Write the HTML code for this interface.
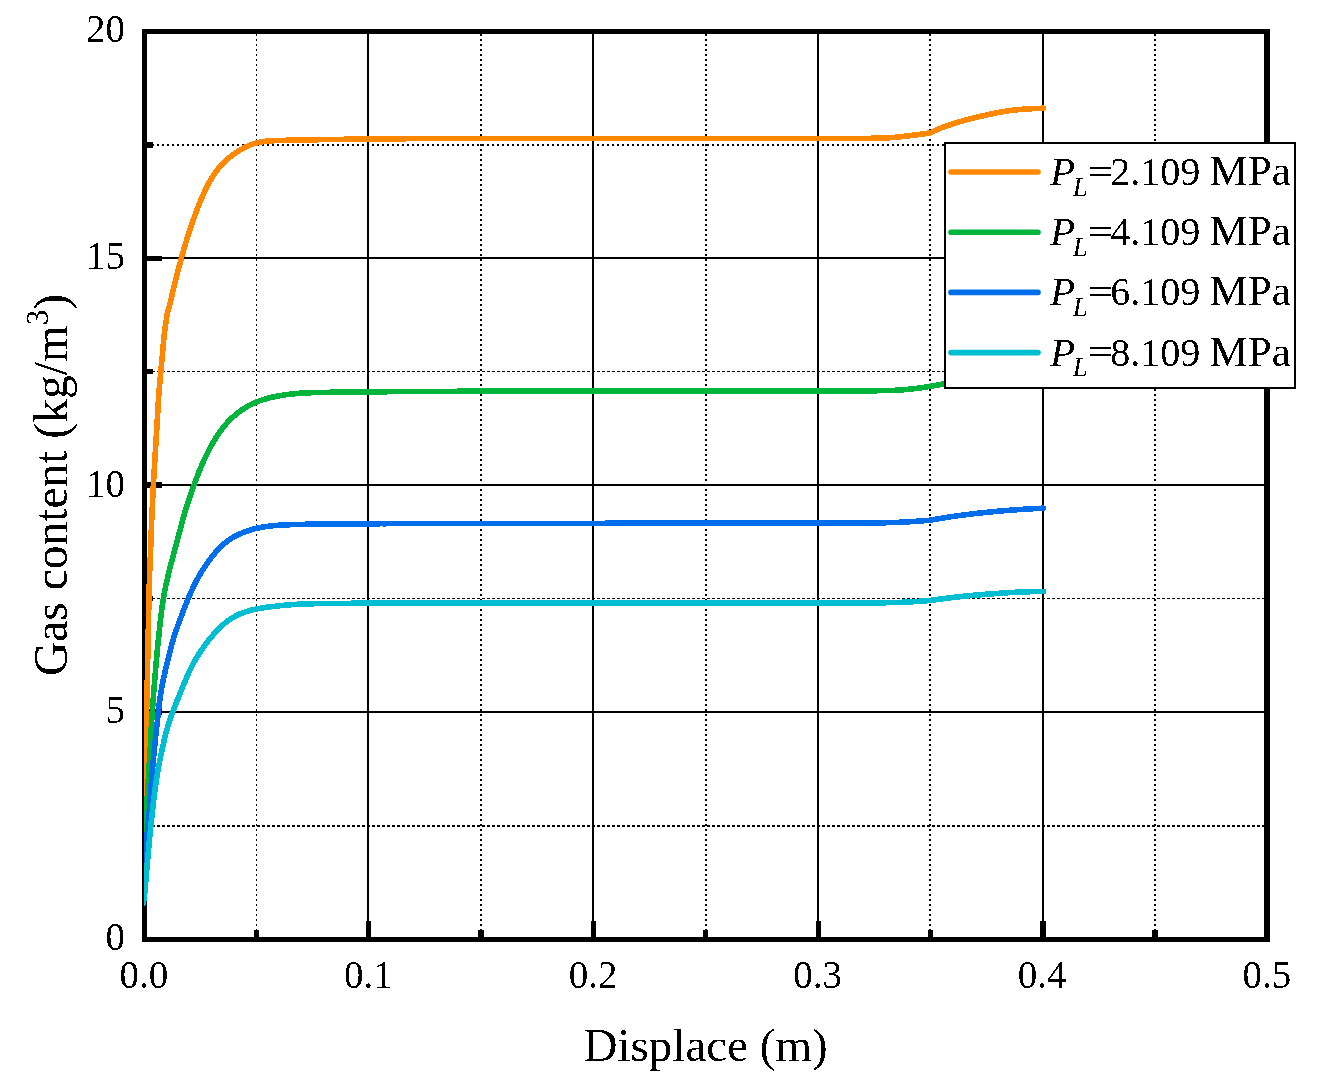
<!DOCTYPE html>
<html><head><meta charset="utf-8"><style>
html,body{margin:0;padding:0;background:#fff;}
body{width:1319px;height:1091px;overflow:hidden;font-family:"Liberation Serif",serif;}
svg{display:block;}
</style></head><body>
<svg width="1319" height="1091" viewBox="0 0 1319 1091">
<rect width="1319" height="1091" fill="#fff"/>
<line x1="256.5" y1="34" x2="256.5" y2="937" stroke="#000" stroke-width="1" stroke-dasharray="2 3" shape-rendering="crispEdges"/>
<line x1="481.0" y1="34" x2="481.0" y2="937" stroke="#000" stroke-width="2" stroke-dasharray="2 3" shape-rendering="crispEdges"/>
<line x1="706.0" y1="34" x2="706.0" y2="937" stroke="#000" stroke-width="2" stroke-dasharray="2 3" shape-rendering="crispEdges"/>
<line x1="930.0" y1="34" x2="930.0" y2="937" stroke="#000" stroke-width="2" stroke-dasharray="2 3" shape-rendering="crispEdges"/>
<line x1="1155.0" y1="34" x2="1155.0" y2="937" stroke="#000" stroke-width="2" stroke-dasharray="2 3" shape-rendering="crispEdges"/>
<line x1="147" y1="145.0" x2="1264" y2="145.0" stroke="#000" stroke-width="2" stroke-dasharray="2 3" shape-rendering="crispEdges"/>
<line x1="147" y1="371.5" x2="1264" y2="371.5" stroke="#000" stroke-width="1" stroke-dasharray="2.5 2.5" shape-rendering="crispEdges"/>
<line x1="147" y1="598.5" x2="1264" y2="598.5" stroke="#000" stroke-width="1" stroke-dasharray="2.5 2.5" shape-rendering="crispEdges"/>
<line x1="147" y1="826.0" x2="1264" y2="826.0" stroke="#000" stroke-width="2" stroke-dasharray="2.5 2.5" shape-rendering="crispEdges"/>
<rect x="367" y="34" width="2" height="903" fill="#000"/>
<rect x="592" y="34" width="2" height="903" fill="#000"/>
<rect x="817" y="34" width="2" height="903" fill="#000"/>
<rect x="1042" y="34" width="2" height="903" fill="#000"/>
<rect x="147" y="257" width="1117" height="2" fill="#000"/>
<rect x="147" y="484" width="1117" height="2" fill="#000"/>
<rect x="147" y="711" width="1117" height="2" fill="#000"/>
<rect x="142" y="29" width="1128" height="5" fill="#000"/>
<rect x="142" y="937" width="1128" height="5" fill="#000"/>
<rect x="142" y="29" width="5" height="913" fill="#000"/>
<rect x="1264" y="29" width="6" height="913" fill="#000"/>
<rect x="366" y="921" width="5" height="16" fill="#000"/>
<rect x="591" y="921" width="5" height="16" fill="#000"/>
<rect x="816" y="921" width="5" height="16" fill="#000"/>
<rect x="1040" y="921" width="6" height="16" fill="#000"/>
<rect x="254" y="930" width="5" height="7" fill="#000"/>
<rect x="478" y="930" width="6" height="7" fill="#000"/>
<rect x="703" y="930" width="5" height="7" fill="#000"/>
<rect x="928" y="930" width="5" height="7" fill="#000"/>
<rect x="1152" y="930" width="6" height="7" fill="#000"/>
<rect x="147" y="256" width="15" height="5" fill="#000"/>
<rect x="147" y="482" width="15" height="6" fill="#000"/>
<rect x="147" y="709" width="15" height="6" fill="#000"/>
<rect x="147" y="142" width="6" height="6" fill="#000"/>
<rect x="147" y="369" width="6" height="5" fill="#000"/>
<rect x="147" y="596" width="6" height="5" fill="#000"/>
<rect x="147" y="823" width="6" height="6" fill="#000"/>
<clipPath id="pc"><rect x="144" y="34" width="1120" height="903"/></clipPath>
<g clip-path="url(#pc)" fill="none" stroke-width="5.6" stroke-linejoin="round" stroke-linecap="round" shape-rendering="crispEdges">
<path d="M144.00,805.00 L144.10,803.50 L144.20,802.00 L144.30,800.51 L144.39,799.01 L144.49,797.51 L144.58,796.01 L144.67,794.52 L144.76,793.02 L144.84,791.52 L144.92,790.02 L144.99,788.52 L145.06,787.02 L145.13,785.52 L145.18,784.02 L145.24,782.53 L145.28,781.03 L145.33,779.53 L145.37,778.03 L145.40,776.52 L145.43,775.02 L145.46,773.52 L145.49,772.02 L145.52,770.52 L145.54,769.02 L145.57,767.52 L145.59,766.02 L145.61,764.52 L145.64,763.02 L145.66,761.52 L145.68,760.02 L145.70,758.52 L145.73,757.02 L145.75,755.51 L145.77,754.01 L145.80,752.51 L145.82,751.01 L145.85,749.51 L145.87,748.01 L145.90,746.51 L145.93,745.01 L145.96,743.51 L145.98,742.01 L146.01,740.51 L146.04,739.01 L146.07,737.51 L146.11,736.01 L146.14,734.50 L146.17,733.00 L146.20,731.50 L146.23,730.00 L146.27,728.50 L146.30,727.00 L146.33,725.50 L146.37,724.00 L146.40,722.50 L146.43,721.00 L146.47,719.50 L146.50,718.00 L146.53,716.50 L146.57,715.00 L146.60,713.50 L146.63,711.99 L146.67,710.49 L146.70,708.99 L146.73,707.49 L146.76,705.99 L146.80,704.49 L146.83,702.99 L146.86,701.49 L146.89,699.99 L146.92,698.49 L146.96,696.99 L146.99,695.49 L147.02,693.99 L147.05,692.49 L147.08,690.99 L147.11,689.48 L147.14,687.98 L147.17,686.48 L147.20,684.98 L147.23,683.48 L147.26,681.98 L147.29,680.48 L147.32,678.98 L147.35,677.48 L147.38,675.98 L147.41,674.48 L147.44,672.98 L147.47,671.48 L147.50,669.98 L147.53,668.48 L147.56,666.97 L147.59,665.47 L147.62,663.97 L147.65,662.47 L147.68,660.97 L147.71,659.47 L147.74,657.97 L147.77,656.47 L147.80,654.97 L147.83,653.47 L147.86,651.97 L147.89,650.47 L147.92,648.97 L147.95,647.47 L147.98,645.96 L148.01,644.46 L148.04,642.96 L148.07,641.46 L148.10,639.96 L148.13,638.46 L148.16,636.96 L148.19,635.46 L148.22,633.96 L148.25,632.46 L148.28,630.96 L148.31,629.46 L148.34,627.96 L148.37,626.46 L148.40,624.95 L148.43,623.45 L148.46,621.95 L148.49,620.45 L148.52,618.95 L148.55,617.45 L148.58,615.95 L148.61,614.45 L148.64,612.95 L148.68,611.45 L148.71,609.95 L148.74,608.45 L148.77,606.95 L148.80,605.45 L148.84,603.95 L148.87,602.44 L148.90,600.94 L148.94,599.44 L148.97,597.94 L149.00,596.44 L149.04,594.94 L149.07,593.44 L149.11,591.94 L149.15,590.44 L149.18,588.94 L149.22,587.44 L149.26,585.94 L149.29,584.44 L149.33,582.94 L149.38,581.44 L149.42,579.94 L149.46,578.44 L149.51,576.94 L149.56,575.44 L149.62,573.94 L149.67,572.44 L149.73,570.94 L149.79,569.44 L149.86,567.94 L149.92,566.44 L149.99,564.94 L150.05,563.44 L150.12,561.94 L150.18,560.44 L150.25,558.94 L150.31,557.44 L150.37,555.94 L150.43,554.44 L150.49,552.94 L150.54,551.44 L150.59,549.94 L150.65,548.44 L150.70,546.94 L150.75,545.44 L150.80,543.94 L150.85,542.44 L150.90,540.94 L150.95,539.44 L151.00,537.94 L151.05,536.44 L151.11,534.94 L151.16,533.44 L151.22,531.94 L151.27,530.44 L151.33,528.94 L151.39,527.44 L151.45,525.94 L151.52,524.44 L151.58,522.95 L151.65,521.45 L151.71,519.95 L151.78,518.45 L151.84,516.95 L151.91,515.45 L151.98,513.95 L152.05,512.45 L152.12,510.95 L152.18,509.45 L152.25,507.95 L152.32,506.45 L152.39,504.95 L152.46,503.45 L152.53,501.95 L152.60,500.45 L152.67,498.95 L152.74,497.45 L152.81,495.96 L152.88,494.46 L152.95,492.96 L153.03,491.46 L153.10,489.96 L153.18,488.46 L153.25,486.96 L153.33,485.46 L153.41,483.96 L153.50,482.46 L153.58,480.97 L153.67,479.47 L153.75,477.97 L153.84,476.47 L153.93,474.97 L154.02,473.47 L154.11,471.98 L154.20,470.48 L154.29,468.98 L154.38,467.48 L154.48,465.98 L154.57,464.48 L154.66,462.99 L154.75,461.49 L154.85,459.99 L154.94,458.49 L155.03,456.99 L155.12,455.50 L155.22,454.00 L155.31,452.50 L155.40,451.00 L155.49,449.50 L155.59,448.00 L155.68,446.51 L155.77,445.01 L155.86,443.51 L155.96,442.01 L156.05,440.51 L156.14,439.02 L156.23,437.52 L156.32,436.02 L156.41,434.52 L156.50,433.02 L156.59,431.52 L156.68,430.03 L156.77,428.53 L156.86,427.03 L156.95,425.53 L157.04,424.03 L157.13,422.53 L157.22,421.04 L157.30,419.54 L157.39,418.04 L157.48,416.54 L157.57,415.04 L157.65,413.54 L157.74,412.05 L157.83,410.55 L157.92,409.05 L158.00,407.55 L158.09,406.05 L158.18,404.55 L158.28,403.06 L158.37,401.56 L158.46,400.06 L158.56,398.56 L158.66,397.06 L158.76,395.57 L158.87,394.07 L158.98,392.57 L159.09,391.08 L159.20,389.58 L159.32,388.08 L159.44,386.59 L159.57,385.09 L159.70,383.60 L159.83,382.10 L159.96,380.61 L160.10,379.11 L160.23,377.62 L160.38,376.12 L160.52,374.63 L160.66,373.14 L160.81,371.64 L160.96,370.15 L161.10,368.65 L161.25,367.16 L161.40,365.67 L161.54,364.17 L161.68,362.68 L161.82,361.19 L161.96,359.69 L162.09,358.20 L162.22,356.70 L162.35,355.21 L162.48,353.71 L162.60,352.22 L162.72,350.72 L162.84,349.23 L162.97,347.73 L163.14,345.74 L163.32,343.75 L163.51,341.76 L163.71,339.77 L163.87,338.28 L164.04,336.79 L164.21,335.30 L164.39,333.81 L164.57,332.32 L164.76,330.83 L164.95,329.34 L165.15,327.85 L165.35,326.37 L165.56,324.88 L165.77,323.40 L165.99,321.91 L166.21,320.43 L166.43,318.94 L166.66,317.46 L166.89,315.98 L167.12,314.49 L167.59,312.55 L167.97,311.10 L168.36,309.65 L168.74,308.20 L169.24,306.27 L169.74,304.33 L170.23,302.39 L170.72,300.45 L171.19,298.51 L171.66,296.56 L172.12,294.62 L172.58,292.67 L173.04,290.72 L173.49,288.78 L173.95,286.83 L174.41,284.88 L174.88,282.94 L175.35,281.00 L175.83,279.05 L176.20,277.60 L176.57,276.15 L176.94,274.69 L177.31,273.24 L177.69,271.79 L178.07,270.34 L178.46,268.89 L178.84,267.44 L179.23,265.99 L179.62,264.54 L180.01,263.09 L180.40,261.64 L180.80,260.20 L181.19,258.75 L181.59,257.30 L181.99,255.86 L182.39,254.41 L182.80,252.97 L183.20,251.52 L183.62,250.08 L184.17,248.16 L184.73,246.24 L185.30,244.32 L185.88,242.41 L186.47,240.50 L187.06,238.59 L187.67,236.68 L188.28,234.78 L188.90,232.87 L189.37,231.45 L189.84,230.03 L190.32,228.60 L190.80,227.18 L191.28,225.76 L191.77,224.35 L192.26,222.93 L192.76,221.51 L193.25,220.10 L193.75,218.68 L194.42,216.80 L195.10,214.92 L195.79,213.04 L196.49,211.16 L197.20,209.29 L197.91,207.43 L198.64,205.57 L199.38,203.71 L200.13,201.86 L200.90,200.01 L201.67,198.17 L202.46,196.33 L203.27,194.50 L204.08,192.68 L204.92,190.86 L205.78,189.06 L206.65,187.27 L207.56,185.49 L208.48,183.72 L209.44,181.97 L210.42,180.24 L211.43,178.52 L212.48,176.83 L213.56,175.16 L214.67,173.51 L215.82,171.89 L217.01,170.30 L218.24,168.74 L219.51,167.21 L220.81,165.72 L222.15,164.26 L223.54,162.83 L224.95,161.44 L226.41,160.09 L227.90,158.78 L229.42,157.50 L230.97,156.26 L232.55,155.06 L234.16,153.89 L235.80,152.76 L237.46,151.67 L239.14,150.61 L240.85,149.59 L242.58,148.61 L244.33,147.68 L246.10,146.80 L247.89,145.97 L249.71,145.19 L251.55,144.48 L253.41,143.84 L255.30,143.27 L257.20,142.76 L259.12,142.33 L261.06,141.95 L263.02,141.64 L264.98,141.38 L266.96,141.16 L268.94,140.99 L270.93,140.85 L272.92,140.74 L274.91,140.64 L276.91,140.57 L278.91,140.50 L280.91,140.44 L282.91,140.39 L284.41,140.35 L285.90,140.31 L287.40,140.28 L288.90,140.25 L290.40,140.22 L291.90,140.18 L293.40,140.15 L294.90,140.13 L296.40,140.10 L297.90,140.07 L299.40,140.04 L300.90,140.01 L302.40,139.99 L303.90,139.96 L305.41,139.93 L306.91,139.90 L308.41,139.88 L309.91,139.85 L311.41,139.83 L312.91,139.80 L314.41,139.77 L315.91,139.75 L317.41,139.72 L318.91,139.70 L320.41,139.67 L321.91,139.64 L323.41,139.62 L324.91,139.59 L326.41,139.57 L327.91,139.55 L329.41,139.52 L330.91,139.50 L332.41,139.48 L333.91,139.45 L335.41,139.43 L336.91,139.41 L338.41,139.39 L339.91,139.36 L341.41,139.34 L342.91,139.32 L344.41,139.30 L345.91,139.28 L347.41,139.26 L348.91,139.24 L350.41,139.21 L351.91,139.19 L353.41,139.17 L354.91,139.15 L356.41,139.13 L357.91,139.11 L359.41,139.09 L360.91,139.07 L362.41,139.05 L363.91,139.03 L365.41,139.01 L366.91,138.99 L368.41,138.97 L369.91,138.95 L371.41,138.93 L372.91,138.91 L374.41,138.89 L375.91,138.88 L377.41,138.86 L378.91,138.85 L380.41,138.83 L381.91,138.82 L383.41,138.81 L384.91,138.80 L386.41,138.79 L387.91,138.78 L389.41,138.77 L390.91,138.77 L392.42,138.76 L393.92,138.75 L395.42,138.75 L396.92,138.74 L398.42,138.73 L399.92,138.73 L401.42,138.72 L402.92,138.72 L404.42,138.71 L405.92,138.71 L407.42,138.70 L408.92,138.70 L410.42,138.69 L411.92,138.69 L413.42,138.68 L414.92,138.68 L416.42,138.67 L417.92,138.66 L419.42,138.66 L420.92,138.65 L422.42,138.65 L423.92,138.64 L425.42,138.64 L426.92,138.63 L428.42,138.63 L429.92,138.62 L431.42,138.62 L432.92,138.61 L434.42,138.61 L435.92,138.60 L437.42,138.60 L438.93,138.59 L440.43,138.59 L441.93,138.58 L443.43,138.58 L444.93,138.57 L446.43,138.57 L447.93,138.57 L449.43,138.56 L450.93,138.56 L452.43,138.56 L453.93,138.56 L455.43,138.55 L456.93,138.55 L458.43,138.55 L459.93,138.55 L461.43,138.55 L462.93,138.55 L464.43,138.55 L465.93,138.55 L467.43,138.54 L468.93,138.54 L470.43,138.54 L471.93,138.54 L473.43,138.54 L474.93,138.54 L476.43,138.54 L477.93,138.54 L479.43,138.54 L480.93,138.54 L482.43,138.54 L483.93,138.54 L485.44,138.54 L486.94,138.54 L488.44,138.54 L489.94,138.54 L491.44,138.54 L492.94,138.54 L494.44,138.54 L495.94,138.53 L497.44,138.53 L498.94,138.53 L500.44,138.53 L501.94,138.53 L503.44,138.53 L504.94,138.53 L506.44,138.53 L507.94,138.53 L509.44,138.53 L510.94,138.53 L512.44,138.53 L513.94,138.53 L515.44,138.53 L516.94,138.53 L518.44,138.53 L519.94,138.53 L521.44,138.53 L522.94,138.53 L524.44,138.53 L525.94,138.52 L527.44,138.52 L528.94,138.52 L530.44,138.52 L531.95,138.52 L533.45,138.52 L534.95,138.52 L536.45,138.52 L537.95,138.52 L539.45,138.52 L540.95,138.52 L542.45,138.52 L543.95,138.52 L545.45,138.52 L546.95,138.52 L548.45,138.52 L549.95,138.52 L551.45,138.52 L552.95,138.52 L554.45,138.52 L555.95,138.51 L557.45,138.51 L558.95,138.51 L560.45,138.51 L561.95,138.51 L563.45,138.51 L564.95,138.51 L566.45,138.51 L567.95,138.51 L569.45,138.51 L570.95,138.51 L572.45,138.51 L573.95,138.51 L575.45,138.51 L576.96,138.51 L578.46,138.51 L579.96,138.51 L581.46,138.51 L582.96,138.51 L584.46,138.51 L585.96,138.50 L587.46,138.50 L588.96,138.50 L590.46,138.50 L591.96,138.50 L593.46,138.50 L594.96,138.50 L596.46,138.50 L597.96,138.50 L599.46,138.50 L600.96,138.50 L602.46,138.50 L603.96,138.50 L605.46,138.50 L606.96,138.50 L608.46,138.50 L609.96,138.50 L611.46,138.50 L612.96,138.50 L614.46,138.50 L615.96,138.50 L617.46,138.50 L618.96,138.50 L620.46,138.50 L621.96,138.50 L623.47,138.50 L624.97,138.50 L626.47,138.49 L627.97,138.49 L629.47,138.49 L630.97,138.49 L632.47,138.49 L633.97,138.49 L635.47,138.49 L636.97,138.49 L638.47,138.49 L639.97,138.49 L641.47,138.49 L642.97,138.49 L644.47,138.49 L645.97,138.49 L647.47,138.49 L648.97,138.49 L650.47,138.49 L651.97,138.49 L653.47,138.49 L654.97,138.49 L656.47,138.49 L657.97,138.49 L659.47,138.49 L660.97,138.49 L662.47,138.49 L663.97,138.49 L665.47,138.49 L666.97,138.49 L668.48,138.49 L669.98,138.49 L671.48,138.49 L672.98,138.49 L674.48,138.49 L675.98,138.49 L677.48,138.49 L678.98,138.48 L680.48,138.48 L681.98,138.48 L683.48,138.48 L684.98,138.48 L686.48,138.48 L687.98,138.48 L689.48,138.48 L690.98,138.48 L692.48,138.48 L693.98,138.48 L695.48,138.48 L696.98,138.48 L698.48,138.48 L699.98,138.48 L701.48,138.48 L702.98,138.48 L704.48,138.48 L705.98,138.48 L707.48,138.48 L708.98,138.48 L710.48,138.48 L711.98,138.48 L713.48,138.48 L714.99,138.48 L716.49,138.48 L717.99,138.48 L719.49,138.48 L720.99,138.48 L722.49,138.48 L723.99,138.48 L725.49,138.48 L726.99,138.48 L728.49,138.48 L729.99,138.48 L731.49,138.47 L732.99,138.47 L734.49,138.47 L735.99,138.47 L737.49,138.47 L738.99,138.47 L740.49,138.47 L741.99,138.47 L743.49,138.47 L744.99,138.47 L746.49,138.47 L747.99,138.47 L749.49,138.47 L750.99,138.47 L752.49,138.47 L753.99,138.47 L755.49,138.47 L756.99,138.47 L758.49,138.47 L759.99,138.47 L761.50,138.47 L763.00,138.47 L764.50,138.47 L766.00,138.47 L767.50,138.47 L769.00,138.47 L770.50,138.47 L772.00,138.47 L773.50,138.47 L775.00,138.47 L776.50,138.47 L778.00,138.47 L779.50,138.47 L781.00,138.47 L782.50,138.46 L784.00,138.46 L785.50,138.46 L787.00,138.46 L788.50,138.46 L790.00,138.46 L791.50,138.46 L793.00,138.46 L794.50,138.46 L796.00,138.46 L797.50,138.46 L799.00,138.46 L800.50,138.46 L802.00,138.46 L803.50,138.46 L805.00,138.46 L806.51,138.46 L808.01,138.46 L809.51,138.46 L811.01,138.46 L812.51,138.46 L814.01,138.46 L815.51,138.46 L817.01,138.46 L818.51,138.46 L820.01,138.46 L821.51,138.46 L823.01,138.46 L824.51,138.46 L826.01,138.46 L827.51,138.46 L829.01,138.46 L830.51,138.46 L832.01,138.46 L833.51,138.46 L835.01,138.45 L836.51,138.45 L838.01,138.45 L839.51,138.45 L841.01,138.45 L842.51,138.45 L844.01,138.45 L845.51,138.45 L847.01,138.45 L848.51,138.45 L850.01,138.44 L851.51,138.44 L853.02,138.44 L854.52,138.43 L856.02,138.43 L857.52,138.42 L859.02,138.41 L860.52,138.41 L862.02,138.40 L863.52,138.38 L865.02,138.37 L866.52,138.36 L868.02,138.34 L869.52,138.33 L871.02,138.31 L872.52,138.29 L874.02,138.27 L876.02,138.24 L878.02,138.20 L880.02,138.15 L882.01,138.09 L884.01,138.02 L886.01,137.93 L888.00,137.83 L889.99,137.70 L891.99,137.56 L893.98,137.40 L895.97,137.22 L897.96,137.03 L899.95,136.82 L901.93,136.60 L903.92,136.37 L905.91,136.14 L907.39,135.96 L908.88,135.78 L910.37,135.60 L911.86,135.42 L913.35,135.23 L914.84,135.04 L916.33,134.85 L917.81,134.65 L919.30,134.46 L920.79,134.25 L922.27,134.05 L923.76,133.84 L925.24,133.64 L926.73,133.42 L928.21,133.21 L929.70,133.00 L931.07,132.38 L932.44,131.76 L933.81,131.15 L935.19,130.54 L936.56,129.94 L937.94,129.34 L939.32,128.76 L940.71,128.19 L942.10,127.62 L943.50,127.08 L944.90,126.54 L946.31,126.02 L947.72,125.51 L949.14,125.02 L950.56,124.53 L951.99,124.06 L953.42,123.61 L954.85,123.16 L956.29,122.72 L957.73,122.30 L959.17,121.88 L960.62,121.47 L962.07,121.07 L963.52,120.67 L964.97,120.28 L966.42,119.90 L967.88,119.52 L969.34,119.14 L970.79,118.77 L972.25,118.41 L973.71,118.04 L975.17,117.68 L976.63,117.32 L978.09,116.96 L979.56,116.61 L981.02,116.26 L982.48,115.92 L983.95,115.57 L985.41,115.23 L986.88,114.90 L988.35,114.57 L989.81,114.25 L991.28,113.93 L992.76,113.62 L994.23,113.31 L995.70,113.01 L997.18,112.72 L998.65,112.44 L1000.13,112.17 L1001.61,111.90 L1003.09,111.65 L1004.57,111.40 L1006.06,111.17 L1007.54,110.95 L1009.03,110.73 L1010.52,110.53 L1012.01,110.34 L1013.50,110.16 L1014.99,109.99 L1016.49,109.83 L1017.98,109.68 L1019.48,109.54 L1020.98,109.41 L1022.48,109.29 L1023.97,109.18 L1025.47,109.07 L1026.97,108.98 L1028.48,108.88 L1029.98,108.80 L1031.48,108.72 L1032.98,108.65 L1034.48,108.58 L1035.99,108.51 L1037.49,108.44 L1038.99,108.38 L1040.49,108.32 L1042.00,108.26 L1043.50,108.20" stroke="#ff8800"/>
<path d="M143.50,842.00 L143.65,840.51 L143.79,839.01 L143.94,837.52 L144.09,836.03 L144.23,834.53 L144.37,833.04 L144.51,831.55 L144.65,830.05 L144.79,828.56 L144.92,827.07 L145.05,825.57 L145.18,824.08 L145.31,822.58 L145.43,821.09 L145.56,819.59 L145.68,818.10 L145.79,816.60 L145.91,815.10 L146.02,813.61 L146.14,812.11 L146.25,810.62 L146.36,809.12 L146.47,807.62 L146.58,806.13 L146.68,804.63 L146.79,803.13 L146.90,801.64 L147.00,800.14 L147.10,798.64 L147.21,797.15 L147.31,795.65 L147.40,794.15 L147.50,792.66 L147.60,791.16 L147.69,789.66 L147.78,788.16 L147.87,786.67 L147.96,785.17 L148.05,783.67 L148.14,782.17 L148.23,780.68 L148.31,779.18 L148.40,777.68 L148.48,776.18 L148.57,774.69 L148.66,773.19 L148.75,771.69 L148.84,770.19 L148.93,768.69 L149.02,767.20 L149.11,765.70 L149.21,764.20 L149.30,762.71 L149.40,761.21 L149.50,759.71 L149.59,758.21 L149.69,756.72 L149.79,755.22 L149.89,753.72 L149.98,752.23 L150.08,750.73 L150.17,749.23 L150.26,747.73 L150.35,746.24 L150.44,744.74 L150.52,743.24 L150.60,741.74 L150.68,740.24 L150.76,738.75 L150.83,737.25 L150.91,735.75 L150.98,734.25 L151.05,732.75 L151.12,731.25 L151.19,729.76 L151.26,728.26 L151.34,726.76 L151.42,725.26 L151.50,723.76 L151.58,722.27 L151.67,720.77 L151.76,719.27 L151.86,717.77 L151.95,716.28 L152.05,714.78 L152.15,713.28 L152.26,711.79 L152.36,710.29 L152.47,708.79 L152.58,707.30 L152.69,705.80 L152.80,704.31 L152.91,702.81 L153.03,701.31 L153.14,699.82 L153.25,698.32 L153.37,696.83 L153.49,695.33 L153.60,693.83 L153.72,692.34 L153.84,690.84 L153.96,689.35 L154.08,687.85 L154.20,686.36 L154.32,684.86 L154.44,683.36 L154.56,681.87 L154.68,680.37 L154.80,678.88 L154.93,677.38 L155.05,675.89 L155.17,674.39 L155.30,672.90 L155.42,671.40 L155.55,669.91 L155.68,668.41 L155.80,666.92 L155.93,665.42 L156.06,663.93 L156.19,662.43 L156.32,660.94 L156.46,659.45 L156.59,657.95 L156.73,656.46 L156.86,654.96 L157.00,653.47 L157.15,651.98 L157.29,650.48 L157.43,648.99 L157.58,647.50 L157.73,646.00 L157.88,644.51 L158.03,643.02 L158.18,641.52 L158.33,640.03 L158.48,638.54 L158.64,637.05 L158.79,635.56 L158.95,634.06 L159.11,632.57 L159.27,631.08 L159.43,629.59 L159.59,628.10 L159.75,626.60 L159.91,625.11 L160.08,623.62 L160.25,622.13 L160.42,620.64 L160.59,619.15 L160.77,617.66 L160.94,616.17 L161.12,614.68 L161.31,613.19 L161.49,611.70 L161.75,609.72 L162.01,607.74 L162.28,605.76 L162.56,603.78 L162.86,601.80 L163.16,599.82 L163.48,597.85 L163.82,595.88 L164.17,593.91 L164.53,591.95 L164.92,589.99 L165.31,588.03 L165.72,586.07 L166.14,584.12 L166.57,582.16 L167.01,580.21 L167.46,578.26 L167.92,576.32 L168.39,574.37 L168.87,572.43 L169.23,570.98 L169.59,569.52 L169.96,568.07 L170.33,566.61 L170.70,565.16 L171.08,563.71 L171.46,562.25 L171.83,560.80 L172.21,559.35 L172.60,557.90 L172.98,556.45 L173.36,555.00 L173.75,553.55 L174.13,552.10 L174.52,550.65 L174.91,549.20 L175.29,547.75 L175.68,546.30 L176.07,544.85 L176.46,543.40 L176.84,541.95 L177.23,540.50 L177.61,539.05 L178.00,537.60 L178.39,536.15 L178.77,534.70 L179.16,533.25 L179.54,531.80 L179.93,530.35 L180.31,528.90 L180.70,527.45 L181.08,526.00 L181.47,524.55 L181.86,523.11 L182.25,521.66 L182.78,519.73 L183.31,517.80 L183.85,515.88 L184.40,513.95 L184.96,512.03 L185.53,510.12 L186.12,508.21 L186.72,506.30 L187.33,504.40 L187.94,502.49 L188.57,500.60 L189.21,498.70 L189.85,496.81 L190.33,495.39 L190.82,493.97 L191.31,492.55 L191.81,491.13 L192.30,489.72 L192.80,488.30 L193.30,486.89 L193.81,485.48 L194.32,484.07 L195.01,482.19 L195.70,480.31 L196.40,478.44 L197.11,476.57 L197.83,474.70 L198.56,472.84 L199.30,470.99 L200.05,469.14 L200.82,467.30 L201.61,465.46 L202.40,463.64 L203.22,461.82 L204.05,460.01 L204.89,458.20 L205.75,456.40 L206.63,454.61 L207.52,452.83 L208.43,451.05 L209.35,449.29 L210.30,447.53 L211.26,445.78 L212.24,444.04 L213.24,442.32 L214.26,440.60 L215.30,438.90 L216.36,437.20 L217.44,435.53 L218.54,433.86 L219.67,432.22 L220.82,430.59 L222.00,428.99 L223.22,427.42 L224.46,425.87 L225.75,424.35 L227.07,422.87 L228.42,421.42 L229.81,420.00 L231.23,418.61 L232.69,417.26 L234.18,415.94 L235.69,414.66 L237.23,413.40 L238.80,412.19 L240.40,411.00 L242.02,409.86 L243.67,408.76 L245.35,407.70 L247.05,406.68 L248.78,405.71 L250.53,404.78 L252.31,403.90 L254.11,403.07 L255.93,402.27 L257.77,401.52 L259.63,400.82 L261.51,400.16 L263.40,399.54 L265.30,398.96 L267.22,398.42 L269.14,397.92 L271.08,397.45 L273.03,397.00 L274.98,396.59 L276.94,396.21 L278.90,395.84 L280.87,395.50 L282.84,395.18 L284.82,394.88 L286.79,394.60 L288.77,394.34 L290.76,394.10 L292.74,393.88 L294.73,393.69 L296.72,393.51 L298.71,393.34 L300.71,393.20 L302.70,393.08 L304.70,392.97 L306.69,392.88 L308.69,392.80 L310.69,392.73 L312.69,392.67 L314.69,392.61 L316.19,392.58 L317.69,392.54 L319.19,392.51 L320.69,392.48 L322.19,392.45 L323.69,392.42 L325.19,392.39 L326.69,392.37 L328.19,392.34 L329.69,392.31 L331.19,392.29 L332.69,392.26 L334.19,392.24 L335.69,392.21 L337.19,392.19 L338.69,392.17 L340.19,392.15 L341.69,392.13 L343.19,392.11 L344.69,392.09 L346.19,392.07 L347.69,392.05 L349.19,392.04 L350.69,392.02 L352.19,392.01 L353.69,391.99 L355.19,391.98 L356.69,391.96 L358.19,391.95 L359.69,391.94 L361.19,391.92 L362.69,391.91 L364.19,391.90 L365.69,391.88 L367.19,391.87 L368.69,391.86 L370.19,391.84 L371.69,391.83 L373.19,391.82 L374.69,391.80 L376.19,391.79 L377.69,391.78 L379.19,391.77 L380.69,391.75 L382.19,391.74 L383.69,391.73 L385.19,391.72 L386.70,391.71 L388.20,391.69 L389.70,391.68 L391.20,391.67 L392.70,391.66 L394.20,391.65 L395.70,391.64 L397.20,391.63 L398.70,391.62 L400.20,391.61 L401.70,391.60 L403.20,391.59 L404.70,391.58 L406.20,391.57 L407.70,391.56 L409.20,391.55 L410.70,391.54 L412.20,391.53 L413.70,391.52 L415.20,391.51 L416.70,391.50 L418.20,391.49 L419.70,391.48 L421.20,391.47 L422.70,391.46 L424.20,391.45 L425.70,391.44 L427.20,391.43 L428.70,391.42 L430.20,391.41 L431.70,391.40 L433.20,391.39 L434.70,391.38 L436.20,391.37 L437.70,391.37 L439.20,391.36 L440.71,391.35 L442.21,391.34 L443.71,391.33 L445.21,391.33 L446.71,391.32 L448.21,391.32 L449.71,391.31 L451.21,391.31 L452.71,391.30 L454.21,391.30 L455.71,391.30 L457.21,391.30 L458.71,391.29 L460.21,391.29 L461.71,391.29 L463.21,391.29 L464.71,391.29 L466.21,391.29 L467.71,391.29 L469.21,391.29 L470.71,391.28 L472.21,391.28 L473.71,391.28 L475.21,391.28 L476.71,391.28 L478.21,391.28 L479.71,391.28 L481.21,391.28 L482.71,391.28 L484.21,391.28 L485.71,391.27 L487.21,391.27 L488.71,391.27 L490.22,391.27 L491.72,391.27 L493.22,391.27 L494.72,391.27 L496.22,391.27 L497.72,391.27 L499.22,391.27 L500.72,391.26 L502.22,391.26 L503.72,391.26 L505.22,391.26 L506.72,391.26 L508.22,391.26 L509.72,391.26 L511.22,391.26 L512.72,391.26 L514.22,391.26 L515.72,391.26 L517.22,391.25 L518.72,391.25 L520.22,391.25 L521.72,391.25 L523.22,391.25 L524.72,391.25 L526.22,391.25 L527.72,391.25 L529.22,391.25 L530.72,391.25 L532.22,391.24 L533.72,391.24 L535.22,391.24 L536.72,391.24 L538.23,391.24 L539.73,391.24 L541.23,391.24 L542.73,391.24 L544.23,391.24 L545.73,391.24 L547.23,391.23 L548.73,391.23 L550.23,391.23 L551.73,391.23 L553.23,391.23 L554.73,391.23 L556.23,391.23 L557.73,391.23 L559.23,391.23 L560.73,391.23 L562.23,391.22 L563.73,391.22 L565.23,391.22 L566.73,391.22 L568.23,391.22 L569.73,391.22 L571.23,391.22 L572.73,391.22 L574.23,391.22 L575.73,391.22 L577.23,391.21 L578.73,391.21 L580.23,391.21 L581.73,391.21 L583.23,391.21 L584.73,391.21 L586.24,391.21 L587.74,391.21 L589.24,391.21 L590.74,391.21 L592.24,391.21 L593.74,391.20 L595.24,391.20 L596.74,391.20 L598.24,391.20 L599.74,391.20 L601.24,391.20 L602.74,391.20 L604.24,391.20 L605.74,391.20 L607.24,391.20 L608.74,391.20 L610.24,391.19 L611.74,391.19 L613.24,391.19 L614.74,391.19 L616.24,391.19 L617.74,391.19 L619.24,391.19 L620.74,391.19 L622.24,391.19 L623.74,391.19 L625.24,391.19 L626.74,391.19 L628.24,391.19 L629.74,391.19 L631.24,391.18 L632.74,391.18 L634.25,391.18 L635.75,391.18 L637.25,391.18 L638.75,391.18 L640.25,391.18 L641.75,391.18 L643.25,391.18 L644.75,391.18 L646.25,391.18 L647.75,391.18 L649.25,391.18 L650.75,391.17 L652.25,391.17 L653.75,391.17 L655.25,391.17 L656.75,391.17 L658.25,391.17 L659.75,391.17 L661.25,391.17 L662.75,391.17 L664.25,391.17 L665.75,391.17 L667.25,391.17 L668.75,391.17 L670.25,391.16 L671.75,391.16 L673.25,391.16 L674.75,391.16 L676.25,391.16 L677.75,391.16 L679.25,391.16 L680.75,391.16 L682.26,391.16 L683.76,391.16 L685.26,391.16 L686.76,391.16 L688.26,391.16 L689.76,391.16 L691.26,391.15 L692.76,391.15 L694.26,391.15 L695.76,391.15 L697.26,391.15 L698.76,391.15 L700.26,391.15 L701.76,391.15 L703.26,391.15 L704.76,391.15 L706.26,391.15 L707.76,391.15 L709.26,391.15 L710.76,391.14 L712.26,391.14 L713.76,391.14 L715.26,391.14 L716.76,391.14 L718.26,391.14 L719.76,391.14 L721.26,391.14 L722.76,391.14 L724.26,391.14 L725.76,391.14 L727.26,391.14 L728.76,391.14 L730.26,391.13 L731.77,391.13 L733.27,391.13 L734.77,391.13 L736.27,391.13 L737.77,391.13 L739.27,391.13 L740.77,391.13 L742.27,391.13 L743.77,391.13 L745.27,391.13 L746.77,391.13 L748.27,391.13 L749.77,391.13 L751.27,391.12 L752.77,391.12 L754.27,391.12 L755.77,391.12 L757.27,391.12 L758.77,391.12 L760.27,391.12 L761.77,391.12 L763.27,391.12 L764.77,391.12 L766.27,391.12 L767.77,391.12 L769.27,391.12 L770.77,391.11 L772.27,391.11 L773.77,391.11 L775.27,391.11 L776.77,391.11 L778.27,391.11 L779.78,391.11 L781.28,391.11 L782.78,391.11 L784.28,391.11 L785.78,391.11 L787.28,391.11 L788.78,391.10 L790.28,391.10 L791.78,391.10 L793.28,391.10 L794.78,391.10 L796.28,391.09 L797.78,391.09 L799.28,391.09 L800.78,391.08 L802.28,391.08 L803.78,391.07 L805.28,391.07 L806.78,391.06 L808.28,391.06 L809.78,391.05 L811.28,391.05 L812.78,391.04 L814.28,391.03 L815.78,391.03 L817.28,391.02 L818.78,391.01 L820.28,391.00 L821.78,391.00 L823.28,390.99 L824.78,390.98 L826.28,390.98 L827.78,390.97 L829.29,390.96 L830.79,390.96 L832.29,390.95 L833.79,390.94 L835.29,390.93 L836.79,390.93 L838.29,390.92 L839.79,390.91 L841.29,390.91 L842.79,390.90 L844.29,390.89 L845.79,390.88 L847.29,390.88 L848.79,390.87 L850.29,390.86 L851.79,390.86 L853.29,390.85 L854.79,390.84 L856.29,390.84 L857.79,390.83 L859.29,390.82 L860.79,390.81 L862.29,390.81 L863.79,390.80 L865.29,390.79 L866.79,390.78 L868.29,390.78 L869.79,390.77 L871.29,390.76 L872.79,390.75 L874.29,390.74 L875.79,390.73 L877.29,390.71 L878.79,390.70 L880.29,390.68 L881.79,390.66 L883.29,390.64 L884.79,390.61 L886.79,390.57 L888.79,390.52 L890.79,390.46 L892.79,390.38 L894.79,390.30 L896.78,390.20 L898.78,390.09 L900.77,389.96 L902.77,389.81 L904.76,389.65 L906.75,389.48 L908.74,389.28 L910.73,389.07 L912.71,388.85 L914.70,388.61 L916.68,388.36 L918.67,388.10 L920.65,387.82 L922.63,387.54 L924.60,387.25 L926.58,386.94 L928.55,386.63 L930.53,386.30 L932.50,385.97 L934.47,385.62 L936.44,385.26 L938.40,384.89 L940.36,384.52 L942.33,384.13 L944.29,383.75 L945.76,383.45 L947.23,383.16 L948.70,382.87 L950.17,382.57 L952.14,382.19 L954.10,381.80 L956.06,381.43 L958.03,381.06 L960.00,380.71 L961.97,380.36 L963.94,380.02 L965.91,379.69 L967.88,379.37 L969.86,379.06 L971.34,378.83 L972.82,378.60 L974.31,378.37 L975.79,378.15 L977.27,377.93 L978.76,377.71 L980.24,377.50 L981.73,377.28 L983.21,377.08 L985.19,376.80 L987.18,376.54 L989.16,376.28 L991.14,376.04 L993.13,375.80 L995.12,375.57 L997.10,375.35 L999.09,375.14 L1001.08,374.93 L1003.07,374.73 L1005.06,374.54 L1007.05,374.36 L1009.05,374.19 L1011.04,374.02 L1013.03,373.87 L1015.03,373.73 L1017.02,373.60 L1019.02,373.48 L1021.02,373.38 L1023.01,373.28 L1025.01,373.19 L1027.01,373.10 L1028.51,373.04 L1030.01,372.98 L1031.51,372.93 L1033.00,372.87 L1034.50,372.82 L1036.00,372.76 L1037.50,372.71 L1039.00,372.66 L1040.50,372.61 L1042.00,372.55 L1043.50,372.50" stroke="#00b43c"/>
<path d="M143.50,866.00 L143.66,864.51 L143.82,863.02 L143.99,861.52 L144.15,860.03 L144.31,858.54 L144.48,857.05 L144.64,855.56 L144.81,854.07 L144.97,852.57 L145.14,851.08 L145.31,849.59 L145.48,848.10 L145.65,846.61 L145.82,845.12 L146.00,843.63 L146.17,842.14 L146.34,840.65 L146.52,839.16 L146.69,837.67 L146.86,836.18 L147.03,834.69 L147.21,833.20 L147.38,831.70 L147.54,830.21 L147.71,828.72 L147.87,827.23 L148.03,825.74 L148.18,824.25 L148.33,822.75 L148.47,821.26 L148.61,819.77 L148.75,818.27 L148.87,816.78 L149.00,815.28 L149.12,813.79 L149.23,812.29 L149.34,810.79 L149.45,809.30 L149.55,807.80 L149.66,806.30 L149.76,804.81 L149.85,803.31 L149.95,801.81 L150.05,800.32 L150.15,798.82 L150.26,797.32 L150.36,795.82 L150.47,794.33 L150.58,792.83 L150.69,791.34 L150.80,789.84 L150.92,788.34 L151.04,786.85 L151.16,785.35 L151.28,783.86 L151.40,782.36 L151.52,780.86 L151.65,779.37 L151.77,777.87 L151.89,776.38 L152.02,774.88 L152.14,773.39 L152.27,771.89 L152.40,770.40 L152.53,768.90 L152.66,767.41 L152.79,765.91 L152.92,764.42 L153.05,762.92 L153.19,761.43 L153.32,759.93 L153.46,758.44 L153.60,756.95 L153.74,755.45 L153.88,753.96 L154.03,752.46 L154.17,750.97 L154.32,749.48 L154.47,747.98 L154.62,746.49 L154.78,745.00 L154.93,743.51 L155.09,742.01 L155.25,740.52 L155.41,739.03 L155.58,737.54 L155.74,736.05 L155.91,734.56 L156.07,733.06 L156.24,731.57 L156.40,730.08 L156.57,728.59 L156.73,727.10 L156.89,725.61 L157.06,724.11 L157.22,722.62 L157.37,721.13 L157.53,719.64 L157.69,718.15 L157.85,716.65 L158.01,715.16 L158.17,713.67 L158.33,712.18 L158.49,710.69 L158.66,709.19 L158.83,707.70 L159.00,706.21 L159.17,704.72 L159.36,703.23 L159.54,701.75 L159.80,699.76 L160.07,697.78 L160.35,695.80 L160.65,693.83 L160.96,691.85 L161.29,689.88 L161.64,687.91 L162.00,685.95 L162.38,683.98 L162.78,682.03 L163.19,680.07 L163.61,678.12 L164.05,676.16 L164.38,674.70 L164.71,673.24 L165.05,671.78 L165.38,670.31 L165.72,668.85 L166.06,667.39 L166.41,665.93 L166.75,664.47 L167.10,663.01 L167.44,661.55 L167.79,660.09 L168.15,658.63 L168.50,657.17 L168.86,655.72 L169.22,654.26 L169.59,652.81 L169.96,651.35 L170.33,649.90 L170.71,648.45 L171.22,646.52 L171.75,644.59 L172.29,642.66 L172.84,640.74 L173.40,638.82 L173.99,636.91 L174.59,635.01 L175.21,633.11 L175.85,631.21 L176.50,629.32 L177.17,627.44 L177.84,625.56 L178.53,623.68 L179.05,622.27 L179.58,620.87 L180.10,619.46 L180.63,618.06 L181.16,616.65 L181.69,615.25 L182.22,613.85 L182.75,612.44 L183.29,611.04 L183.82,609.64 L184.36,608.24 L184.90,606.84 L185.45,605.44 L186.00,604.05 L186.55,602.65 L187.30,600.80 L188.06,598.95 L188.83,597.10 L189.61,595.26 L190.41,593.43 L191.22,591.60 L192.04,589.78 L192.88,587.97 L193.74,586.16 L194.62,584.36 L195.51,582.58 L196.42,580.80 L197.35,579.04 L198.31,577.28 L199.28,575.54 L200.29,573.82 L201.31,572.10 L202.36,570.40 L203.43,568.72 L204.52,567.05 L205.63,565.39 L206.76,563.74 L207.91,562.11 L209.08,560.49 L210.27,558.88 L211.48,557.30 L212.72,555.73 L213.98,554.19 L215.27,552.67 L216.58,551.18 L217.93,549.71 L219.31,548.28 L220.71,546.88 L222.16,545.52 L223.63,544.20 L225.15,542.92 L226.69,541.69 L228.28,540.52 L229.90,539.39 L231.56,538.32 L233.25,537.30 L234.97,536.34 L236.73,535.42 L238.51,534.55 L240.32,533.73 L242.14,532.95 L243.99,532.21 L245.85,531.52 L247.73,530.86 L249.62,530.24 L251.52,529.67 L253.44,529.13 L255.37,528.64 L257.30,528.18 L259.25,527.76 L261.21,527.38 L263.17,527.03 L265.14,526.71 L267.12,526.42 L269.09,526.16 L271.08,525.93 L273.06,525.72 L275.05,525.53 L277.04,525.37 L279.04,525.22 L281.03,525.10 L283.03,524.99 L285.03,524.89 L287.02,524.80 L288.52,524.74 L290.02,524.69 L291.52,524.64 L293.02,524.59 L294.52,524.55 L296.02,524.51 L297.52,524.47 L299.02,524.43 L300.52,524.40 L302.02,524.36 L303.52,524.33 L305.02,524.30 L306.52,524.26 L308.02,524.23 L309.52,524.20 L311.02,524.17 L312.52,524.14 L314.02,524.11 L315.52,524.08 L317.02,524.06 L318.52,524.03 L320.03,524.00 L321.53,523.98 L323.03,523.95 L324.53,523.93 L326.03,523.91 L327.53,523.89 L329.03,523.87 L330.53,523.86 L332.03,523.84 L333.53,523.83 L335.03,523.82 L336.53,523.81 L338.03,523.80 L339.53,523.79 L341.03,523.79 L342.53,523.78 L344.03,523.78 L345.53,523.77 L347.04,523.77 L348.54,523.77 L350.04,523.76 L351.54,523.76 L353.04,523.76 L354.54,523.75 L356.04,523.75 L357.54,523.75 L359.04,523.75 L360.54,523.74 L362.04,523.74 L363.54,523.74 L365.04,523.74 L366.54,523.73 L368.04,523.73 L369.54,523.73 L371.05,523.72 L372.55,523.72 L374.05,523.72 L375.55,523.72 L377.05,523.71 L378.55,523.71 L380.05,523.71 L381.55,523.70 L383.05,523.70 L384.55,523.70 L386.05,523.70 L387.55,523.69 L389.05,523.69 L390.55,523.69 L392.05,523.69 L393.55,523.68 L395.06,523.68 L396.56,523.68 L398.06,523.67 L399.56,523.67 L401.06,523.67 L402.56,523.67 L404.06,523.66 L405.56,523.66 L407.06,523.66 L408.56,523.65 L410.06,523.65 L411.56,523.65 L413.06,523.65 L414.56,523.64 L416.06,523.64 L417.57,523.64 L419.07,523.64 L420.57,523.63 L422.07,523.63 L423.57,523.63 L425.07,523.62 L426.57,523.62 L428.07,523.62 L429.57,523.62 L431.07,523.61 L432.57,523.61 L434.07,523.61 L435.57,523.60 L437.07,523.60 L438.57,523.60 L440.07,523.60 L441.58,523.59 L443.08,523.59 L444.58,523.59 L446.08,523.59 L447.58,523.58 L449.08,523.58 L450.58,523.58 L452.08,523.57 L453.58,523.57 L455.08,523.57 L456.58,523.57 L458.08,523.56 L459.58,523.56 L461.08,523.56 L462.58,523.55 L464.09,523.55 L465.59,523.55 L467.09,523.55 L468.59,523.54 L470.09,523.54 L471.59,523.54 L473.09,523.54 L474.59,523.53 L476.09,523.53 L477.59,523.53 L479.09,523.52 L480.59,523.52 L482.09,523.52 L483.59,523.52 L485.09,523.51 L486.59,523.51 L488.10,523.51 L489.60,523.50 L491.10,523.50 L492.60,523.50 L494.10,523.50 L495.60,523.49 L497.10,523.49 L498.60,523.49 L500.10,523.48 L501.60,523.48 L503.10,523.48 L504.60,523.48 L506.10,523.47 L507.60,523.47 L509.10,523.47 L510.61,523.47 L512.11,523.46 L513.61,523.46 L515.11,523.46 L516.61,523.45 L518.11,523.45 L519.61,523.45 L521.11,523.45 L522.61,523.44 L524.11,523.44 L525.61,523.44 L527.11,523.43 L528.61,523.43 L530.11,523.43 L531.61,523.43 L533.11,523.42 L534.62,523.42 L536.12,523.42 L537.62,523.42 L539.12,523.41 L540.62,523.41 L542.12,523.41 L543.62,523.40 L545.12,523.40 L546.62,523.40 L548.12,523.40 L549.62,523.39 L551.12,523.39 L552.62,523.39 L554.12,523.38 L555.62,523.38 L557.13,523.38 L558.63,523.38 L560.13,523.37 L561.63,523.37 L563.13,523.37 L564.63,523.37 L566.13,523.36 L567.63,523.36 L569.13,523.36 L570.63,523.35 L572.13,523.35 L573.63,523.35 L575.13,523.35 L576.63,523.34 L578.13,523.34 L579.63,523.34 L581.14,523.33 L582.64,523.33 L584.14,523.33 L585.64,523.33 L587.14,523.32 L588.64,523.32 L590.14,523.32 L591.64,523.32 L593.14,523.31 L594.64,523.31 L596.14,523.31 L597.64,523.31 L599.14,523.30 L600.64,523.30 L602.14,523.30 L603.65,523.30 L605.15,523.30 L606.65,523.29 L608.15,523.29 L609.65,523.29 L611.15,523.29 L612.65,523.29 L614.15,523.28 L615.65,523.28 L617.15,523.28 L618.65,523.28 L620.15,523.28 L621.65,523.28 L623.15,523.27 L624.65,523.27 L626.15,523.27 L627.66,523.27 L629.16,523.27 L630.66,523.26 L632.16,523.26 L633.66,523.26 L635.16,523.26 L636.66,523.26 L638.16,523.26 L639.66,523.25 L641.16,523.25 L642.66,523.25 L644.16,523.25 L645.66,523.25 L647.16,523.25 L648.66,523.24 L650.17,523.24 L651.67,523.24 L653.17,523.24 L654.67,523.24 L656.17,523.24 L657.67,523.23 L659.17,523.23 L660.67,523.23 L662.17,523.23 L663.67,523.23 L665.17,523.22 L666.67,523.22 L668.17,523.22 L669.67,523.22 L671.17,523.22 L672.67,523.22 L674.18,523.21 L675.68,523.21 L677.18,523.21 L678.68,523.21 L680.18,523.21 L681.68,523.21 L683.18,523.20 L684.68,523.20 L686.18,523.20 L687.68,523.20 L689.18,523.20 L690.68,523.20 L692.18,523.19 L693.68,523.19 L695.18,523.19 L696.69,523.19 L698.19,523.19 L699.69,523.18 L701.19,523.18 L702.69,523.18 L704.19,523.18 L705.69,523.18 L707.19,523.18 L708.69,523.17 L710.19,523.17 L711.69,523.17 L713.19,523.17 L714.69,523.17 L716.19,523.17 L717.69,523.16 L719.19,523.16 L720.70,523.16 L722.20,523.16 L723.70,523.16 L725.20,523.16 L726.70,523.15 L728.20,523.15 L729.70,523.15 L731.20,523.15 L732.70,523.15 L734.20,523.15 L735.70,523.14 L737.20,523.14 L738.70,523.14 L740.20,523.14 L741.70,523.14 L743.21,523.13 L744.71,523.13 L746.21,523.13 L747.71,523.13 L749.21,523.13 L750.71,523.13 L752.21,523.12 L753.71,523.12 L755.21,523.12 L756.71,523.12 L758.21,523.12 L759.71,523.12 L761.21,523.11 L762.71,523.11 L764.21,523.11 L765.71,523.11 L767.22,523.11 L768.72,523.11 L770.22,523.10 L771.72,523.10 L773.22,523.10 L774.72,523.10 L776.22,523.10 L777.72,523.09 L779.22,523.09 L780.72,523.09 L782.22,523.09 L783.72,523.09 L785.22,523.09 L786.72,523.08 L788.22,523.08 L789.73,523.08 L791.23,523.08 L792.73,523.08 L794.23,523.08 L795.73,523.07 L797.23,523.07 L798.73,523.07 L800.23,523.07 L801.73,523.07 L803.23,523.07 L804.73,523.06 L806.23,523.06 L807.73,523.06 L809.23,523.06 L810.73,523.06 L812.23,523.06 L813.74,523.05 L815.24,523.05 L816.74,523.05 L818.24,523.05 L819.74,523.05 L821.24,523.04 L822.74,523.04 L824.24,523.04 L825.74,523.04 L827.24,523.04 L828.74,523.04 L830.24,523.03 L831.74,523.03 L833.24,523.03 L834.74,523.03 L836.25,523.03 L837.75,523.03 L839.25,523.02 L840.75,523.02 L842.25,523.02 L843.75,523.02 L845.25,523.02 L846.75,523.01 L848.25,523.01 L849.75,523.01 L851.25,523.00 L852.75,523.00 L854.25,522.99 L855.75,522.99 L857.25,522.98 L858.75,522.97 L860.26,522.96 L861.76,522.96 L863.26,522.95 L864.76,522.93 L866.26,522.92 L867.76,522.91 L869.26,522.90 L870.76,522.88 L872.26,522.87 L873.76,522.85 L875.26,522.84 L876.76,522.82 L878.26,522.80 L879.76,522.79 L881.26,522.77 L882.76,522.75 L884.26,522.73 L885.76,522.71 L887.26,522.68 L888.76,522.65 L890.26,522.62 L891.76,522.58 L893.26,522.54 L895.26,522.48 L897.26,522.41 L899.26,522.32 L901.26,522.22 L902.75,522.15 L904.25,522.06 L905.75,521.97 L907.25,521.88 L908.74,521.78 L910.24,521.68 L911.74,521.58 L913.24,521.48 L914.73,521.37 L916.23,521.27 L917.73,521.16 L919.22,521.05 L920.72,520.95 L922.22,520.84 L923.71,520.73 L925.21,520.62 L926.71,520.52 L928.20,520.41 L929.70,520.30 L931.18,520.03 L932.65,519.76 L934.13,519.49 L935.60,519.23 L937.08,518.96 L938.56,518.70 L940.04,518.45 L941.52,518.20 L943.00,517.95 L944.48,517.71 L945.96,517.48 L947.44,517.25 L948.92,517.02 L950.41,516.80 L951.89,516.58 L953.38,516.37 L954.86,516.16 L956.35,515.95 L957.84,515.75 L959.32,515.55 L960.81,515.35 L962.30,515.16 L963.79,514.97 L965.27,514.78 L966.76,514.59 L968.25,514.41 L969.74,514.23 L971.23,514.05 L972.72,513.87 L974.21,513.70 L975.70,513.53 L977.19,513.36 L978.68,513.19 L980.18,513.02 L981.67,512.86 L983.16,512.70 L984.65,512.54 L986.14,512.38 L987.64,512.23 L989.13,512.08 L990.62,511.93 L992.11,511.78 L993.61,511.64 L995.10,511.50 L996.60,511.36 L998.09,511.22 L999.58,511.08 L1001.08,510.95 L1002.57,510.82 L1004.07,510.69 L1005.56,510.57 L1007.06,510.44 L1008.55,510.32 L1010.05,510.20 L1011.55,510.09 L1013.04,509.98 L1014.54,509.87 L1016.04,509.76 L1017.53,509.65 L1019.03,509.55 L1020.53,509.45 L1022.02,509.36 L1023.52,509.26 L1025.02,509.17 L1026.52,509.08 L1028.02,509.00 L1029.51,508.91 L1031.01,508.83 L1032.51,508.75 L1034.01,508.67 L1035.51,508.60 L1037.01,508.52 L1038.50,508.45 L1040.00,508.37 L1041.50,508.30 L1043.00,508.22 L1043.50,508.20" stroke="#006eeb"/>
<path d="M143.50,903.00 L143.74,901.02 L143.99,899.03 L144.22,897.05 L144.45,895.06 L144.67,893.07 L144.87,891.08 L145.07,889.09 L145.26,887.10 L145.44,885.11 L145.61,883.12 L145.74,881.62 L145.86,880.13 L145.99,878.64 L146.11,877.14 L146.24,875.64 L146.36,874.15 L146.49,872.65 L146.61,871.16 L146.74,869.66 L146.87,868.17 L146.99,866.67 L147.12,865.18 L147.25,863.68 L147.38,862.19 L147.51,860.70 L147.64,859.20 L147.77,857.71 L147.90,856.21 L148.04,854.72 L148.17,853.22 L148.31,851.73 L148.44,850.23 L148.58,848.74 L148.72,847.25 L148.86,845.75 L149.00,844.26 L149.15,842.77 L149.29,841.27 L149.44,839.78 L149.58,838.29 L149.73,836.79 L149.88,835.30 L150.03,833.81 L150.18,832.31 L150.33,830.82 L150.48,829.33 L150.63,827.84 L150.79,826.34 L150.94,824.85 L151.10,823.36 L151.25,821.87 L151.41,820.37 L151.57,818.88 L151.73,817.39 L151.89,815.90 L152.06,814.41 L152.22,812.92 L152.38,811.43 L152.55,809.93 L152.72,808.44 L152.89,806.95 L153.06,805.46 L153.23,803.97 L153.40,802.48 L153.58,800.99 L153.75,799.50 L153.93,798.01 L154.12,796.52 L154.31,795.03 L154.49,793.55 L154.69,792.06 L154.88,790.57 L155.08,789.08 L155.28,787.60 L155.49,786.11 L155.70,784.63 L155.91,783.14 L156.12,781.66 L156.41,779.68 L156.71,777.70 L157.01,775.72 L157.33,773.75 L157.66,771.78 L158.00,769.81 L158.36,767.84 L158.73,765.88 L159.11,763.92 L159.51,761.96 L159.92,760.00 L160.33,758.05 L160.74,756.09 L161.16,754.13 L161.58,752.18 L162.00,750.23 L162.42,748.27 L162.85,746.32 L163.28,744.37 L163.71,742.41 L164.16,740.47 L164.62,738.52 L165.09,736.58 L165.57,734.64 L166.07,732.71 L166.59,730.78 L167.12,728.85 L167.68,726.93 L168.25,725.02 L168.84,723.11 L169.45,721.21 L170.08,719.31 L170.73,717.42 L171.39,715.53 L172.07,713.65 L172.75,711.78 L173.45,709.90 L174.16,708.03 L174.88,706.17 L175.61,704.30 L176.34,702.44 L177.08,700.59 L177.64,699.20 L178.21,697.80 L178.77,696.42 L179.34,695.03 L179.91,693.64 L180.48,692.25 L181.05,690.86 L181.62,689.48 L182.19,688.09 L182.76,686.70 L183.53,684.85 L184.29,683.00 L185.06,681.16 L185.83,679.32 L186.61,677.48 L187.41,675.64 L188.22,673.82 L189.05,672.00 L189.90,670.20 L190.78,668.41 L191.67,666.62 L192.59,664.85 L193.54,663.09 L194.50,661.34 L195.49,659.61 L196.50,657.89 L197.53,656.18 L198.58,654.48 L199.66,652.80 L200.75,651.13 L201.87,649.47 L203.00,647.83 L204.16,646.20 L205.34,644.59 L206.53,642.99 L207.75,641.41 L208.98,639.84 L210.24,638.28 L211.51,636.75 L212.81,635.23 L214.12,633.73 L215.46,632.25 L216.82,630.79 L218.20,629.36 L219.61,627.95 L221.05,626.58 L222.51,625.23 L224.01,623.93 L225.53,622.66 L227.09,621.44 L228.68,620.27 L230.31,619.15 L231.97,618.08 L233.67,617.07 L235.39,616.12 L237.15,615.22 L238.94,614.37 L240.76,613.59 L242.59,612.86 L244.46,612.18 L246.34,611.56 L248.24,610.98 L250.15,610.45 L252.08,609.96 L254.02,609.50 L255.97,609.09 L257.92,608.70 L259.89,608.35 L261.86,608.01 L263.83,607.71 L265.81,607.42 L267.79,607.14 L269.77,606.89 L271.75,606.64 L273.74,606.41 L275.73,606.19 L277.72,605.98 L279.21,605.82 L280.70,605.67 L282.19,605.52 L283.69,605.38 L285.18,605.24 L286.67,605.10 L288.67,604.93 L290.66,604.77 L292.65,604.61 L294.65,604.47 L296.64,604.34 L298.64,604.22 L300.63,604.12 L302.63,604.03 L304.63,603.95 L306.63,603.88 L308.63,603.83 L310.63,603.78 L312.13,603.74 L313.63,603.71 L315.13,603.68 L316.63,603.66 L318.13,603.63 L319.63,603.61 L321.13,603.59 L322.63,603.56 L324.13,603.54 L325.63,603.52 L327.13,603.50 L328.63,603.48 L330.13,603.46 L331.63,603.44 L333.13,603.42 L334.63,603.40 L336.13,603.39 L337.63,603.37 L339.13,603.36 L340.63,603.35 L342.13,603.34 L343.63,603.33 L345.13,603.32 L346.63,603.31 L348.13,603.31 L349.63,603.30 L351.13,603.30 L352.63,603.29 L354.13,603.29 L355.63,603.29 L357.13,603.29 L358.63,603.29 L360.13,603.29 L361.63,603.28 L363.13,603.28 L364.63,603.28 L366.13,603.28 L367.63,603.28 L369.14,603.28 L370.64,603.28 L372.14,603.28 L373.64,603.27 L375.14,603.27 L376.64,603.27 L378.14,603.27 L379.64,603.27 L381.14,603.27 L382.64,603.27 L384.14,603.27 L385.64,603.26 L387.14,603.26 L388.64,603.26 L390.14,603.26 L391.64,603.26 L393.14,603.26 L394.64,603.26 L396.14,603.26 L397.64,603.26 L399.14,603.25 L400.64,603.25 L402.14,603.25 L403.64,603.25 L405.14,603.25 L406.64,603.25 L408.14,603.25 L409.65,603.25 L411.15,603.25 L412.65,603.24 L414.15,603.24 L415.65,603.24 L417.15,603.24 L418.65,603.24 L420.15,603.24 L421.65,603.24 L423.15,603.24 L424.65,603.23 L426.15,603.23 L427.65,603.23 L429.15,603.23 L430.65,603.23 L432.15,603.23 L433.65,603.23 L435.15,603.23 L436.65,603.23 L438.15,603.22 L439.65,603.22 L441.15,603.22 L442.65,603.22 L444.15,603.22 L445.65,603.22 L447.15,603.22 L448.65,603.22 L450.16,603.22 L451.66,603.21 L453.16,603.21 L454.66,603.21 L456.16,603.21 L457.66,603.21 L459.16,603.21 L460.66,603.21 L462.16,603.21 L463.66,603.20 L465.16,603.20 L466.66,603.20 L468.16,603.20 L469.66,603.20 L471.16,603.20 L472.66,603.20 L474.16,603.20 L475.66,603.20 L477.16,603.19 L478.66,603.19 L480.16,603.19 L481.66,603.19 L483.16,603.19 L484.66,603.19 L486.16,603.19 L487.66,603.19 L489.16,603.19 L490.67,603.18 L492.17,603.18 L493.67,603.18 L495.17,603.18 L496.67,603.18 L498.17,603.18 L499.67,603.18 L501.17,603.18 L502.67,603.17 L504.17,603.17 L505.67,603.17 L507.17,603.17 L508.67,603.17 L510.17,603.17 L511.67,603.17 L513.17,603.17 L514.67,603.17 L516.17,603.16 L517.67,603.16 L519.17,603.16 L520.67,603.16 L522.17,603.16 L523.67,603.16 L525.17,603.16 L526.67,603.16 L528.17,603.16 L529.67,603.15 L531.18,603.15 L532.68,603.15 L534.18,603.15 L535.68,603.15 L537.18,603.15 L538.68,603.15 L540.18,603.15 L541.68,603.14 L543.18,603.14 L544.68,603.14 L546.18,603.14 L547.68,603.14 L549.18,603.14 L550.68,603.14 L552.18,603.14 L553.68,603.14 L555.18,603.13 L556.68,603.13 L558.18,603.13 L559.68,603.13 L561.18,603.13 L562.68,603.13 L564.18,603.13 L565.68,603.13 L567.18,603.13 L568.68,603.12 L570.18,603.12 L571.69,603.12 L573.19,603.12 L574.69,603.12 L576.19,603.12 L577.69,603.12 L579.19,603.12 L580.69,603.11 L582.19,603.11 L583.69,603.11 L585.19,603.11 L586.69,603.11 L588.19,603.11 L589.69,603.11 L591.19,603.11 L592.69,603.11 L594.19,603.11 L595.69,603.10 L597.19,603.10 L598.69,603.10 L600.19,603.10 L601.69,603.10 L603.19,603.10 L604.69,603.10 L606.19,603.10 L607.69,603.10 L609.19,603.10 L610.69,603.10 L612.20,603.10 L613.70,603.09 L615.20,603.09 L616.70,603.09 L618.20,603.09 L619.70,603.09 L621.20,603.09 L622.70,603.09 L624.20,603.09 L625.70,603.09 L627.20,603.09 L628.70,603.09 L630.20,603.09 L631.70,603.09 L633.20,603.09 L634.70,603.09 L636.20,603.09 L637.70,603.09 L639.20,603.08 L640.70,603.08 L642.20,603.08 L643.70,603.08 L645.20,603.08 L646.70,603.08 L648.20,603.08 L649.70,603.08 L651.20,603.08 L652.71,603.08 L654.21,603.08 L655.71,603.08 L657.21,603.08 L658.71,603.08 L660.21,603.08 L661.71,603.08 L663.21,603.08 L664.71,603.08 L666.21,603.07 L667.71,603.07 L669.21,603.07 L670.71,603.07 L672.21,603.07 L673.71,603.07 L675.21,603.07 L676.71,603.07 L678.21,603.07 L679.71,603.07 L681.21,603.07 L682.71,603.07 L684.21,603.07 L685.71,603.07 L687.21,603.07 L688.71,603.07 L690.21,603.07 L691.71,603.06 L693.22,603.06 L694.72,603.06 L696.22,603.06 L697.72,603.06 L699.22,603.06 L700.72,603.06 L702.22,603.06 L703.72,603.06 L705.22,603.06 L706.72,603.06 L708.22,603.06 L709.72,603.06 L711.22,603.06 L712.72,603.06 L714.22,603.06 L715.72,603.06 L717.22,603.05 L718.72,603.05 L720.22,603.05 L721.72,603.05 L723.22,603.05 L724.72,603.05 L726.22,603.05 L727.72,603.05 L729.22,603.05 L730.72,603.05 L732.23,603.05 L733.73,603.05 L735.23,603.05 L736.73,603.05 L738.23,603.05 L739.73,603.05 L741.23,603.05 L742.73,603.05 L744.23,603.04 L745.73,603.04 L747.23,603.04 L748.73,603.04 L750.23,603.04 L751.73,603.04 L753.23,603.04 L754.73,603.04 L756.23,603.04 L757.73,603.04 L759.23,603.04 L760.73,603.04 L762.23,603.04 L763.73,603.04 L765.23,603.04 L766.73,603.04 L768.23,603.04 L769.73,603.03 L771.23,603.03 L772.74,603.03 L774.24,603.03 L775.74,603.03 L777.24,603.03 L778.74,603.03 L780.24,603.03 L781.74,603.03 L783.24,603.03 L784.74,603.03 L786.24,603.03 L787.74,603.03 L789.24,603.03 L790.74,603.03 L792.24,603.03 L793.74,603.03 L795.24,603.02 L796.74,603.02 L798.24,603.02 L799.74,603.02 L801.24,603.02 L802.74,603.02 L804.24,603.02 L805.74,603.02 L807.24,603.02 L808.74,603.02 L810.24,603.02 L811.74,603.02 L813.25,603.02 L814.75,603.02 L816.25,603.02 L817.75,603.02 L819.25,603.02 L820.75,603.02 L822.25,603.01 L823.75,603.01 L825.25,603.01 L826.75,603.01 L828.25,603.01 L829.75,603.01 L831.25,603.01 L832.75,603.01 L834.25,603.01 L835.75,603.01 L837.25,603.01 L838.75,603.01 L840.25,603.01 L841.75,603.01 L843.25,603.01 L844.75,603.00 L846.25,603.00 L847.75,603.00 L849.25,603.00 L850.75,603.00 L852.25,602.99 L853.76,602.99 L855.26,602.98 L856.76,602.98 L858.26,602.97 L859.76,602.96 L861.26,602.96 L862.76,602.95 L864.26,602.94 L865.76,602.92 L867.26,602.91 L868.76,602.90 L870.26,602.89 L871.76,602.87 L873.26,602.86 L874.76,602.84 L876.26,602.83 L877.76,602.81 L879.26,602.79 L880.76,602.78 L882.26,602.76 L883.76,602.74 L885.26,602.72 L886.76,602.70 L888.26,602.67 L889.76,602.65 L891.26,602.62 L892.76,602.59 L894.26,602.55 L895.76,602.51 L897.76,602.45 L899.76,602.38 L901.76,602.30 L903.75,602.21 L905.75,602.12 L907.25,602.04 L908.75,601.96 L910.25,601.87 L911.74,601.78 L913.24,601.69 L914.74,601.59 L916.23,601.49 L917.73,601.39 L919.23,601.28 L920.72,601.17 L922.22,601.06 L923.72,600.95 L925.21,600.84 L926.71,600.73 L928.20,600.61 L929.70,600.50 L931.19,600.29 L932.68,600.08 L934.16,599.87 L935.65,599.66 L937.14,599.45 L938.63,599.25 L940.12,599.05 L941.61,598.85 L943.10,598.65 L944.59,598.46 L946.08,598.27 L947.57,598.08 L949.07,597.90 L950.56,597.71 L952.05,597.54 L953.54,597.36 L955.04,597.19 L956.53,597.02 L958.02,596.85 L959.52,596.69 L961.01,596.53 L962.51,596.37 L964.00,596.22 L965.50,596.07 L966.99,595.92 L968.49,595.78 L969.99,595.63 L971.48,595.50 L972.98,595.36 L974.48,595.23 L975.98,595.10 L977.47,594.97 L978.97,594.85 L980.47,594.72 L981.97,594.60 L983.47,594.48 L984.96,594.36 L986.46,594.24 L987.96,594.12 L989.46,594.01 L990.96,593.89 L992.46,593.78 L993.96,593.67 L995.46,593.56 L996.96,593.45 L998.45,593.35 L999.95,593.24 L1001.45,593.14 L1002.95,593.04 L1004.45,592.94 L1005.95,592.84 L1007.45,592.74 L1008.95,592.65 L1010.45,592.56 L1011.96,592.47 L1013.46,592.39 L1014.96,592.31 L1016.46,592.23 L1017.96,592.16 L1019.46,592.09 L1020.96,592.03 L1022.46,591.96 L1023.97,591.91 L1025.47,591.85 L1026.97,591.80 L1028.47,591.75 L1029.97,591.71 L1031.48,591.67 L1032.98,591.63 L1034.48,591.59 L1035.99,591.56 L1037.49,591.52 L1038.99,591.49 L1040.49,591.46 L1042.00,591.43 L1043.50,591.40" stroke="#00bed2"/>
</g>
<filter id="bin" x="0" y="0" width="100%" height="100%" filterUnits="userSpaceOnUse"><feComponentTransfer><feFuncA type="discrete" tableValues="0 1"/></feComponentTransfer></filter>
<g font-family="Liberation Serif, serif" font-size="39" fill="#000" filter="url(#bin)">
<text x="143.8" y="988" text-anchor="middle">0.0</text>
<text x="368.4" y="988" text-anchor="middle">0.1</text>
<text x="593.0" y="988" text-anchor="middle">0.2</text>
<text x="817.6" y="988" text-anchor="middle">0.3</text>
<text x="1042.2" y="988" text-anchor="middle">0.4</text>
<text x="1266.8" y="988" text-anchor="middle">0.5</text>
<text x="125" y="950.0" text-anchor="end">0</text>
<text x="125" y="723.0" text-anchor="end">5</text>
<text x="125" y="497.0" text-anchor="end">10</text>
<text x="125" y="269.0" text-anchor="end">15</text>
<text x="125" y="42.0" text-anchor="end">20</text>
</g>
<g filter="url(#bin)"><text x="705.6" y="1061" text-anchor="middle" font-family="Liberation Serif, serif" font-size="47">Displace (m)</text>
<text transform="translate(67,485) rotate(-90)" text-anchor="middle" font-family="Liberation Serif, serif" font-size="47.5">Gas content (kg/m<tspan font-size="31" dy="-19">3</tspan><tspan dy="19">)</tspan></text></g>
<rect x="945" y="143" width="350" height="245" fill="#fff" stroke="#000" stroke-width="2"/>
<line x1="951" y1="172.0" x2="1038" y2="172.0" stroke="#ff8800" stroke-width="5.6" stroke-linecap="round"/>
<g filter="url(#bin)">
<text x="1050.1" y="185.0" font-family="Liberation Serif, serif" font-style="italic" font-size="41">P</text>
<text x="1072.8" y="195.7" font-family="Liberation Serif, serif" font-style="italic" font-size="27">L</text>
<rect x="1090" y="167" width="21" height="2" fill="#000"/>
<rect x="1090" y="174" width="21" height="2" fill="#000"/>
<text x="1110.3" y="185.0" font-family="Liberation Serif, serif" font-size="40">2.109</text>
<text x="1209.6" y="185.0" font-family="Liberation Serif, serif" font-size="43">MPa</text>
</g>
<line x1="951" y1="232.2" x2="1038" y2="232.2" stroke="#00b43c" stroke-width="5.6" stroke-linecap="round"/>
<g filter="url(#bin)">
<text x="1050.1" y="245.2" font-family="Liberation Serif, serif" font-style="italic" font-size="41">P</text>
<text x="1072.8" y="255.9" font-family="Liberation Serif, serif" font-style="italic" font-size="27">L</text>
<rect x="1090" y="227" width="21" height="2" fill="#000"/>
<rect x="1090" y="234" width="21" height="2" fill="#000"/>
<text x="1110.3" y="245.2" font-family="Liberation Serif, serif" font-size="40">4.109</text>
<text x="1209.6" y="245.2" font-family="Liberation Serif, serif" font-size="43">MPa</text>
</g>
<line x1="951" y1="292.4" x2="1038" y2="292.4" stroke="#006eeb" stroke-width="5.6" stroke-linecap="round"/>
<g filter="url(#bin)">
<text x="1050.1" y="305.4" font-family="Liberation Serif, serif" font-style="italic" font-size="41">P</text>
<text x="1072.8" y="316.1" font-family="Liberation Serif, serif" font-style="italic" font-size="27">L</text>
<rect x="1090" y="287" width="21" height="2" fill="#000"/>
<rect x="1090" y="294" width="21" height="2" fill="#000"/>
<text x="1110.3" y="305.4" font-family="Liberation Serif, serif" font-size="40">6.109</text>
<text x="1209.6" y="305.4" font-family="Liberation Serif, serif" font-size="43">MPa</text>
</g>
<line x1="951" y1="352.6" x2="1038" y2="352.6" stroke="#00bed2" stroke-width="5.6" stroke-linecap="round"/>
<g filter="url(#bin)">
<text x="1050.1" y="365.6" font-family="Liberation Serif, serif" font-style="italic" font-size="41">P</text>
<text x="1072.8" y="376.3" font-family="Liberation Serif, serif" font-style="italic" font-size="27">L</text>
<rect x="1090" y="347" width="21" height="2" fill="#000"/>
<rect x="1090" y="354" width="21" height="2" fill="#000"/>
<text x="1110.3" y="365.6" font-family="Liberation Serif, serif" font-size="40">8.109</text>
<text x="1209.6" y="365.6" font-family="Liberation Serif, serif" font-size="43">MPa</text>
</g>
</svg>
</body></html>
